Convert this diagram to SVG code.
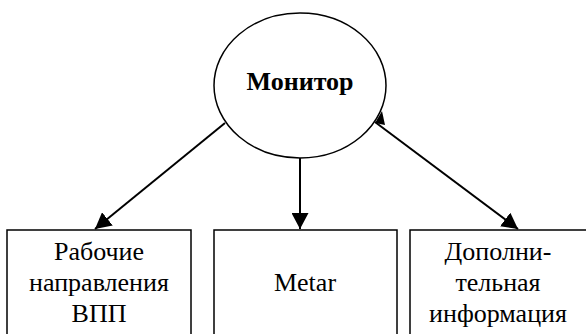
<svg xmlns="http://www.w3.org/2000/svg" width="586" height="334" viewBox="0 0 586 334">
  <style>
    .shape { fill: #fff; stroke: #000; stroke-width: 1.5; }
    .link { fill: none; stroke: #000; stroke-width: 2; }
    .label { font-family: "Liberation Serif", "Times New Roman", serif; font-size: 26px; fill: #000; text-anchor: middle; }
    .title { font-weight: bold; }
  </style>
  <defs>
    <marker id="head" markerUnits="userSpaceOnUse" markerWidth="17" markerHeight="17" refX="16" refY="8.5" orient="auto">
      <path d="M0,0 L16,8.5 L0,17 Z" fill="#000"/>
    </marker>
  </defs>

  <g id="monitor">
    <ellipse class="shape" cx="300" cy="85.5" rx="86" ry="72.5"/>
    <text class="label title" x="300" y="90">Монитор</text>
  </g>

  <g id="runways">
    <rect class="shape" x="7" y="230" width="184" height="110"/>
    <text class="label" x="99" y="260">Рабочие</text>
    <text class="label" x="99" y="291">направления</text>
    <text class="label" x="99" y="322">ВПП</text>
  </g>

  <g id="metar">
    <rect class="shape" x="214" y="230" width="183" height="110"/>
    <text class="label" x="305" y="291">Metar</text>
  </g>

  <g id="extra-info">
    <rect class="shape" x="410" y="230" width="184" height="110"/>
    <text class="label" x="498" y="260">Дополни-</text>
    <text class="label" x="498" y="291">тельная</text>
    <text class="label" x="498" y="322">информация</text>
  </g>

  <g id="connectors">
    <line class="link" x1="225" y1="123" x2="95" y2="229" marker-end="url(#head)"/>
    <line class="link" x1="300" y1="158" x2="300" y2="229" marker-end="url(#head)"/>
    <line class="link" x1="375" y1="122" x2="518" y2="229" marker-end="url(#head)"/>
    <polygon points="382,111 375,123 385,125" fill="#000"/>
  </g>
</svg>
